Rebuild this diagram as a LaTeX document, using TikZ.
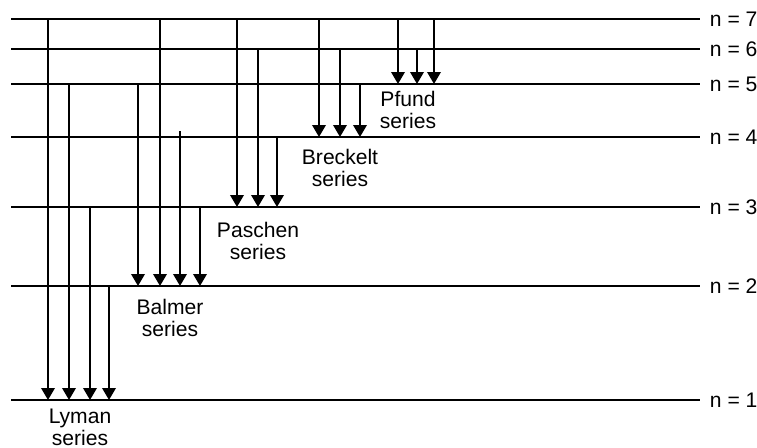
\documentclass[tikz,border=0pt]{standalone}
\usepackage{fontspec}
\setmainfont{Liberation Sans}
\usepackage{tikz}
\usetikzlibrary{arrows.meta,positioning,calc}

\begin{document}
\begin{tikzpicture}[x=0.02cm, y=-0.02cm, line width=1.1pt,
  trans/.style={-{Triangle[length=0.24cm, width=0.27cm]}},
  lvltext/.style={anchor=west, inner sep=0pt, xshift=0.18cm},
  series/.style={align=center, inner sep=0pt, font=\fontsize{12}{12.5}\selectfont}]
\useasboundingbox (0,0) rectangle (757,447);
% energy levels
\foreach \n/\y in {7/19,6/49,5/84,4/137,3/207,2/286,1/400} {
  \coordinate (L\n) at (11,\y);
  \draw (L\n) -- (700,\y) node[lvltext, font=\fontsize{12}{12.5}\selectfont] (n\n) {n = \n};
}
% Lyman
\foreach \x/\m in {48/7,69/5,90/3,109/2}
  \draw[trans] (\x,0 |- L\m) -- (\x,0 |- L1);
% Balmer
\foreach \x/\m in {138/5,160/7,200/3}
  \draw[trans] (\x,0 |- L\m) -- (\x,0 |- L2);
\draw[trans] ($(180,0 |- L4)+(0,-6)$) -- (180,0 |- L2);
% Paschen
\foreach \x/\m in {237/7,258/6,277/4}
  \draw[trans] (\x,0 |- L\m) -- (\x,0 |- L3);
% Breckelt
\foreach \x/\m in {319/7,340/6,360/5}
  \draw[trans] (\x,0 |- L\m) -- (\x,0 |- L4);
% Pfund
\foreach \x/\m in {398/7,417/6,434/7}
  \draw[trans] (\x,0 |- L\m) -- (\x,0 |- L5);
% series names
\node[series] (lyman) at (80,427) {Lyman\\series};
\node[series] (balmer) at (170,318) {Balmer\\series};
\node[series] (paschen) at (258,241) {Paschen\\series};
\node[series] (breckelt) at (340,168) {Breckelt\\series};
\node[series] (pfund) at (408,110) {Pfund\\series};
\end{tikzpicture}
\end{document}
